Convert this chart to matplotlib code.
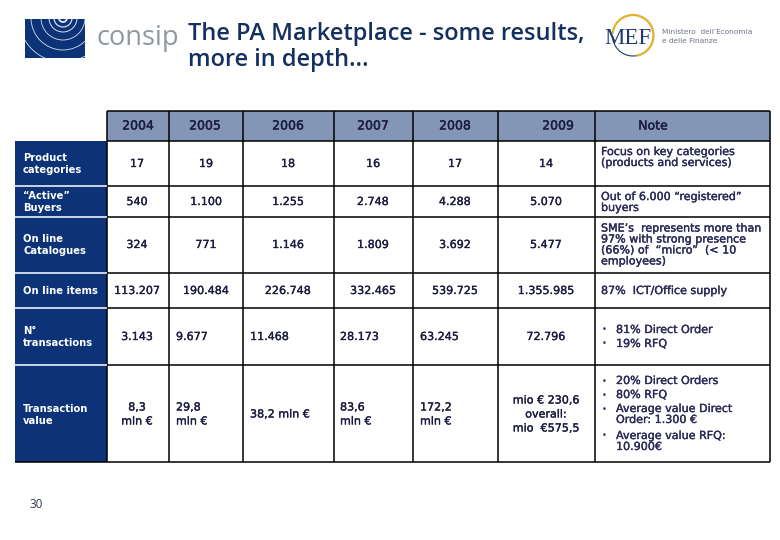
import matplotlib
matplotlib.use("Agg")
from matplotlib import pyplot as plt
from matplotlib.patches import Rectangle, Circle, Arc
import matplotlib.patheffects as pe

# table content
years = ["2004", "2005", "2006", "2007", "2008", "2009"]
row_labels = ["Product\ncategories", "\u201cActive\u201d\nBuyers", "On line\nCatalogues",
              "On line items", "N\u00b0\ntransactions", "Transaction\nvalue"]
product_categories = ["17", "19", "18", "16", "17", "14"]
active_buyers = ["540", "1.100", "1.255", "2.748", "4.288", "5.070"]
catalogues = ["324", "771", "1.146", "1.809", "3.692", "5.477"]
line_items = ["113.207", "190.484", "226.748", "332.465", "539.725", "1.355.985"]
transactions = ["3.143", "9.677", "11.468", "28.173", "63.245", "72.796"]
transaction_value = ["8,3\nmln \u20ac", "29,8\nmln \u20ac", "38,2 mln \u20ac", "83,6\nmln \u20ac",
                     "172,2\nmln \u20ac", "mio \u20ac 230,6\noverall:\nmio  \u20ac575,5"]
notes_plain = ["Focus on key categories\n(products and services)",
               "Out of 6.000 \u201cregistered\u201d\nbuyers",
               "SME\u2019s  represents more than\n97% with strong presence\n(66%) of  \u201cmicro\u201d  (< 10\nemployees)",
               "87%  ICT/Office supply"]
notes_transactions = ["81% Direct Order", "19% RFQ"]
notes_value = ["20% Direct Orders", "80% RFQ", "Average value Direct\nOrder: 1.300 \u20ac",
               "Average value RFQ:\n10.900\u20ac"]

# layout, in pixels of the 780x540 slide
col_edges = [106.5, 168.5, 242.5, 333.5, 412.5, 497.5, 594.5, 769.5]
row_edges = [141, 186, 217, 273, 308, 365, 462]
row_mid = [164, 202, 245, 291, 337, 414.5]
note_mid = [157.5, 202.5, 245, 291]
header_x = [138, 205, 288, 373, 455, 558]
value_x = [137, 206, 288, 373, 455, 546]
left_x = [None, 176, 250, 340, 420, None]

NAVY = "#0c3278"
HEAD = "#8496b8"
INK = "#1c1c40"
NOTE = "#2c2c5c"
TITLE = "#14305e"
FAKE_BOLD = [pe.withStroke(linewidth=0.25, foreground=INK)]

fig = plt.figure(figsize=(7.8, 5.4), dpi=100)
ax = fig.add_axes([0, 0, 1, 1])
ax.set_xlim(0, 780)
ax.set_ylim(540, 0)
ax.axis("off")

# consip logo
logo = Rectangle((25, 19), 60, 38.5, facecolor=NAVY, edgecolor="none")
ax.add_patch(logo)
for r, lw in [(4, 1.4), (9, 0.9), (14, 0.7), (22, 0.6), (32, 0.6), (44, 0.6)]:
    c = Circle((63, 18), r, fill=False, edgecolor="#d5e0f0", linewidth=lw)
    ax.add_patch(c)
    c.set_clip_path(logo)
ax.text(96, 38, "consip", fontsize=19.5, color="#8f979f", family="Open Sans", va="center", ha="left", weight="medium")

# title
ax.text(188, 33.5, "The PA Marketplace - some results,", fontsize=17, color=TITLE,
        family="Open Sans", va="center", ha="left", weight="semibold")
ax.text(188, 60, "more in depth\u2026", fontsize=17, color=TITLE,
        family="Open Sans", va="center", ha="left", weight="semibold")

# MEF logo
ax.add_patch(Arc((633, 35.5), 41, 41, theta1=185, theta2=440, edgecolor="#e0b030", linewidth=1.6))
ax.add_patch(Arc((633, 35.5), 41, 41, theta1=80, theta2=170, edgecolor="#1e3a6e", linewidth=0.8))
ax.text(628, 38, "MEF", fontsize=16.5, color="#1e3a6e", family="Liberation Serif", ha="center", va="center")
ax.text(662, 32, "Ministero  dell\u2019Economia", fontsize=5.3, color="#6a7488", va="center")
ax.text(662, 41, "e delle Finanze", fontsize=5.3, color="#6a7488", va="center")

# header band and row label column
ax.add_patch(Rectangle((col_edges[0], 111), col_edges[-1] - col_edges[0], row_edges[0] - 111,
                       facecolor=HEAD, edgecolor="none"))
ax.add_patch(Rectangle((15, row_edges[0]), col_edges[0] - 15, row_edges[-1] - row_edges[0],
                       facecolor=NAVY, edgecolor="none"))

# grid lines
ax.vlines(col_edges, 111, row_edges[-1], color="black", linewidth=1.1)
ax.hlines(111, col_edges[0], col_edges[-1], color="black", linewidth=1.1)
ax.hlines(row_edges[:-1], col_edges[0], col_edges[-1], color="black", linewidth=1.1)
ax.hlines(row_edges[-1], 15, col_edges[-1], color="black", linewidth=1.1)
ax.hlines(row_edges[1:-1], 15, col_edges[0], color="white", linewidth=1.1)

for x, year in zip(header_x, years):
    ax.text(x, 126, year, fontsize=9, color=INK, ha="center", va="center", path_effects=FAKE_BOLD)
ax.text(653, 126, "Note", fontsize=9, color=INK, ha="center", va="center", path_effects=FAKE_BOLD)

for y, label in zip(row_mid, row_labels):
    ax.text(23, y, label, fontsize=7.2, color="white", ha="left", va="center", weight="bold", linespacing=1.25)

rows = [product_categories, active_buyers, catalogues, line_items, transactions, transaction_value]
for i, (y, row) in enumerate(zip(row_mid, rows)):
    for j, val in enumerate(row):
        # last two rows are left aligned in the middle columns
        if i >= 4 and left_x[j] is not None:
            ax.text(left_x[j], y, val, fontsize=8, color=INK, ha="left", va="center",
                    linespacing=1.5, path_effects=FAKE_BOLD)
        else:
            ax.text(value_x[j], y, val, fontsize=8, color=INK, ha="center", va="center",
                    linespacing=1.5, path_effects=FAKE_BOLD)

# notes column
for y, note in zip(note_mid, notes_plain):
    ax.text(601, y, note, fontsize=8, color=NOTE, ha="left", va="center",
            linespacing=1.12, path_effects=FAKE_BOLD)
for y, note in zip([330, 344], notes_transactions):
    ax.text(602, y, "\u2022", fontsize=6, color=NOTE, ha="left", va="center")
    ax.text(616, y, note, fontsize=8, color=NOTE, ha="left", va="center", path_effects=FAKE_BOLD)
for y, note in zip([376, 390, 404, 431], notes_value):
    ax.text(602, y + 5, "\u2022", fontsize=6, color=NOTE, ha="left", va="center")
    ax.text(616, y, note, fontsize=8, color=NOTE, ha="left", va="top", linespacing=1.12,
            path_effects=FAKE_BOLD)

ax.text(36, 505, "30", fontsize=8.5, color="#30384a", ha="center", va="center", family="Open Sans")

fig.savefig("out.png", dpi=100)
